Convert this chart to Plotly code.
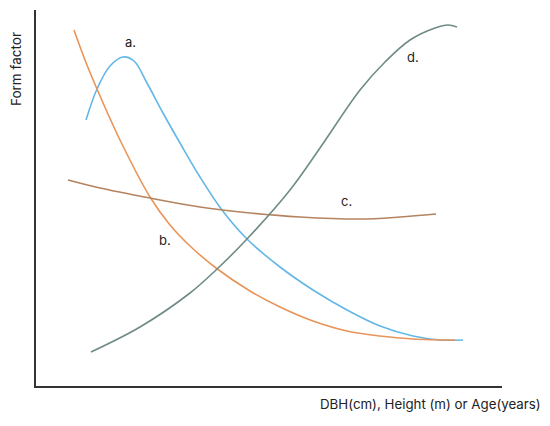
import plotly.graph_objects as go

# curves (arbitrary units, no ticks on the original)
a_x = [50, 61, 74, 87, 98, 111, 127, 144, 164, 186, 211, 244, 277, 311, 344, 377, 404, 427]
a_y = [266, 297, 320, 329, 325, 303, 273, 243, 209, 176, 147, 119, 96, 76, 60, 50, 46, 46]

b_x = [38, 49, 61, 84, 114, 134, 154, 180, 214, 244, 277, 311, 344, 377, 419]
b_y = [356, 326, 297, 246, 189, 161, 140, 118, 95, 79, 65, 55, 50, 47, 46]

c_x = [32, 64, 114, 164, 214, 264, 324, 364, 400]
c_y = [206, 198, 188, 179, 173, 169, 167, 169, 172]

d_x = [55, 104, 154, 180, 211, 254, 284, 324, 349, 374, 399, 412, 421]
d_y = [34, 59, 93, 116, 147, 196, 238, 296, 324, 346, 358, 361, 359]

labels = ['a.', 'b.', 'c.', 'd.']
label_x = [94, 129, 310, 377]
label_y = [344, 146, 185, 329]

curves = [(a_x, a_y, '#63b7e6'), (b_x, b_y, '#e8945a'),
          (c_x, c_y, '#b5835f'), (d_x, d_y, '#6f8b88')]

fig = go.Figure()
for xs, ys, col in curves:
    fig.add_trace(go.Scatter(x=xs, y=ys, mode='lines',
                             line=dict(color=col, width=1.6, shape='spline'),
                             hoverinfo='none'))

for t, x, y in zip(labels, label_x, label_y):
    fig.add_annotation(x=x, y=y, text=t, showarrow=False,
                       font=dict(size=13, color='#222'))

fig.add_annotation(xref='paper', yref='paper', x=-0.043, y=0.843, text='Form factor',
                   xanchor='center', yanchor='middle', textangle=-90, showarrow=False,
                   font=dict(size=13.5, color='#222'))
fig.add_annotation(xref='paper', yref='paper', x=1.088, y=-0.048, xanchor='right',
                   yanchor='middle', text='DBH(cm), Height (m) or Age(years)',
                   showarrow=False, font=dict(size=13.3, color='#222'))

fig.update_xaxes(range=[0, 466], showline=True, linecolor='#333', linewidth=2,
                 showgrid=False, zeroline=False, showticklabels=False, ticks='')
fig.update_yaxes(range=[0, 376], showline=True, linecolor='#333', linewidth=2,
                 showgrid=False, zeroline=False, showticklabels=False, ticks='')
# page body has an 8px margin, so the figure is a bit smaller and shifted
fig.update_layout(width=542, height=418, showlegend=False,
                  margin=dict(l=28, r=48, t=2, b=40),
                  paper_bgcolor='white', plot_bgcolor='white',
                  font=dict(family='Inter, sans-serif'))

fig.write_html("out.html")
